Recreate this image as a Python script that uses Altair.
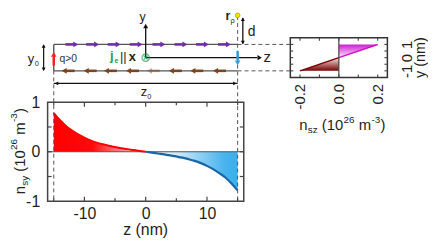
import altair as alt
import pandas as pd

# ---------------- data ----------------
z_left = [-15, -14, -13, -12, -11, -10, -9, -8, -7, -6, -5, -4, -3, -2, -1, 0]
nsy_left = [0.78, 0.64, 0.52, 0.43, 0.35, 0.285, 0.23, 0.185, 0.15, 0.12, 0.095, 0.072, 0.053, 0.035, 0.017, 0.0]
z_right = [0, 1, 2, 3, 4, 5, 6, 7, 8, 9, 10, 11, 12, 13, 14, 15]
nsy_right = [0.0, -0.017, -0.035, -0.053, -0.072, -0.095, -0.12, -0.15, -0.185, -0.23, -0.285, -0.35, -0.43, -0.52, -0.64, -0.78]

inset_y_neg = [-1.0, 0.0]
nsz_neg = [-0.2, 0.0]
inset_y_pos = [0.0, 1.0]
nsz_pos = [0.0, 0.2]

x_tick_vals = [-15, -10, -5, 0, 5, 10, 15]
x_label_vals = [-10, 0, 10]
y_tick_vals = [-0.5, 0, 0.5]
y_label_vals = [-1, 0, 1]
inset_x_tick_vals = [-0.2, -0.1, 0.0, 0.1, 0.2]
inset_x_label_vals = [-0.2, 0.0, 0.2]
inset_y_tick_vals = [-1, -0.5, 0, 0.5, 1]
inset_y_label_vals = [-1, 0, 1]

wire_z = [-15, 15]          # wire ends (z0 = 30 nm)
wire_y = [-1, 1]            # wire faces (y0 = 2 nm)
current_up_z = [-12.1, -8.7, -5.2, -1.6, 2.1, 5.7, 9.2, 12.8]
current_down_z = [-12.6, -9.0, -5.7, -2.1, 1.3, 4.9, 8.4, 12.1]
current_down_w = [1, 1, 1, 1, 0.45, 1, 1, 1]

# ---------------- layout / style ----------------
FONT = "Liberation Sans"
TXT = "#231f20"
FRAME = "#444444"
W, H = 198, 100
OX, OY = 48, 102           # page position of plot origin
SVG_W, SVG_H = 424, 233
ONE = pd.DataFrame({"k": [0]})

SX = alt.Scale(domain=[-16, 16], nice=False, zero=False)
SY = alt.Scale(domain=[-1, 1], nice=False, zero=False)
SXS = alt.Scale(domain=[-16, 16], range=[0, W], nice=False, zero=False)
SXI = alt.Scale(domain=[-0.25, 0.25], range=[293 - OX, 391 - OX], nice=False, zero=False)
SYI = alt.Scale(domain=[-1.5, 1.5], range=[77 - OY, 37 - OY], nice=False, zero=False)

AXM = alt.Axis(values=x_label_vals, labelFontSize=16, labelFont=FONT, labelColor=TXT,
               ticks=False, domain=False, grid=False, labelPadding=4, title=None,
               labelExpr="datum.value < 0 ? '-' + format(-datum.value, 'd') : format(datum.value, 'd')")
AYM = alt.Axis(values=y_label_vals, labelFontSize=16, labelFont=FONT, labelColor=TXT,
               ticks=False, domain=False, grid=False, labelPadding=8, title=None,
               labelExpr="datum.value < 0 ? '-' + format(-datum.value, 'd') : format(datum.value, 'd')")
AXI = alt.Axis(values=inset_x_label_vals, orient="bottom", offset=(77 - OY) - H,
               labelFontSize=15, labelFont=FONT, labelColor=TXT, labelAngle=270,
               labelAlign="right", labelBaseline="middle", labelPadding=6,
               ticks=False, domain=False, grid=False, title=None,
               labelExpr="datum.value < 0 ? '-' + format(-datum.value, '.1f') : format(datum.value, '.1f')")
AYI = alt.Axis(values=inset_y_label_vals, orient="right", offset=(391 - OX) - W,
               labelFontSize=15, labelFont=FONT, labelColor=TXT, labelAngle=270,
               labelAlign="center", labelBaseline="top", labelPadding=12,
               ticks=False, domain=False, grid=False, title=None,
               labelExpr="datum.value < 0 ? '-' + format(-datum.value, 'd') : format(datum.value, 'd')")

XM = alt.X("z:Q", scale=SX, axis=AXM)
YM = alt.Y("n:Q", scale=SY, axis=AYM)

EM = {" ": 278, "(": 333, ")": 333, "m": 833, "n": 556, "s": 500, "y": 500, "z": 500, "-": 333}


def tw(s, size):
    return sum(EM.get(c, 556) for c in s) * size / 1000.0


def txt(text, px, py, size, color=TXT, angle=0, align="left", baseline="alphabetic", bold=False):
    return alt.Chart(ONE).mark_text(
        text=text, fontSize=size, font=FONT, color=color, angle=angle, align=align,
        baseline=baseline, fontWeight="bold" if bold else "normal"
    ).encode(x=alt.value(px - OX), y=alt.value(py - OY))


def run(pieces, px, py, angle=0):
    """pieces: (text, size, baseline shift, gap before in px)"""
    out = []
    pos = px if angle == 0 else py
    for text, size, shift, gap in pieces:
        if angle == 0:
            pos += gap
            out.append(txt(text, pos, py + shift, size))
            pos += tw(text, size)
        else:
            pos -= gap
            out.append(txt(text, px + shift, pos, size, angle=270))
            pos -= tw(text, size)
    return out


def grad(stops, horizontal=True):
    return alt.Gradient(
        gradient="linear", x1=0, y1=0, x2=1 if horizontal else 0, y2=0 if horizontal else 1,
        stops=[alt.GradientStop(offset=o, color=c) for o, c in stops])


# ---------------- main panel ----------------
df_l = pd.DataFrame({"z": z_left, "n": nsy_left})
df_r = pd.DataFrame({"z": z_right, "n": nsy_right})

red_fill = grad([(0, "#ff0000"), (0.42, "#ff0a0a"), (0.72, "#ff8585"), (1, "#ffeeee")])
blue_fill = grad([(0, "#f0f8fe"), (0.35, "#cfeafb"), (0.62, "#86ccf4"), (0.85, "#4ab4ee"), (1, "#3aaeec")])

main_layers = [
    alt.Chart(df_l).mark_area(fill=red_fill, interpolate="monotone").encode(x=XM, y=alt.Y("n:Q", scale=SY, axis=AYM, stack=None)),
    alt.Chart(df_r).mark_area(fill=blue_fill, interpolate="monotone").encode(x=XM, y=alt.Y("n:Q", scale=SY, axis=AYM, stack=None)),
    alt.Chart(pd.DataFrame({"n": [0]})).mark_rule(color="#555555", strokeWidth=1.2).encode(y=YM, x=alt.value(0), x2=alt.value(W)),
    alt.Chart(df_l).mark_line(color="#ff0000", strokeWidth=2, interpolate="monotone").encode(x=XM, y=YM),
    alt.Chart(df_r).mark_line(color="#1a66a3", strokeWidth=2.2, interpolate="monotone").encode(x=XM, y=YM),
    alt.Chart(pd.DataFrame({"z": [wire_z[0]]})).mark_rule(color="#555555", strokeWidth=1, strokeDash=[4, 3]).encode(
        x=XM, y=alt.value(70 - OY), y2=alt.value(H)),
    alt.Chart(pd.DataFrame({"z": [wire_z[1]]})).mark_rule(color="#555555", strokeWidth=1, strokeDash=[4, 3]).encode(
        x=XM, y=alt.value(15 - OY), y2=alt.value(H)),
]
major_x = [v for v in x_tick_vals if v in x_label_vals]
minor_x = [v for v in x_tick_vals if v not in x_label_vals]
for vals, ln in ((major_x, 4.5), (minor_x, 3)):
    d = pd.DataFrame({"z": vals})
    main_layers.append(alt.Chart(d).mark_rule(color=FRAME, strokeWidth=1.2).encode(x=XM, y=alt.value(H), y2=alt.value(H - ln)))
    main_layers.append(alt.Chart(d).mark_rule(color=FRAME, strokeWidth=1.2).encode(x=XM, y=alt.value(0), y2=alt.value(ln)))
dy = pd.DataFrame({"n": y_tick_vals})
main_layers.append(alt.Chart(dy).mark_rule(color=FRAME, strokeWidth=1.2).encode(y=YM, x=alt.value(0), x2=alt.value(4)))
main_layers.append(alt.Chart(dy).mark_rule(color=FRAME, strokeWidth=1.2).encode(y=YM, x=alt.value(W), x2=alt.value(W - 4)))

# titles (sub/superscripts as separate pieces)
SP = 4.2
main_layers += run([("n", 15, 0, 0), ("sy", 10, 3.5, 0.3), ("(10", 15, 0, SP), ("26", 10, -8, 0.3),
                    ("m", 15, 0, SP), ("-3", 10, -8, 0.3), (")", 15, 0, 0.3)], 25, 195, angle=270)
main_layers.append(txt("z (nm)", 147, 236, 16, align="center"))
main_layers += run([("n", 15, 0, 0), ("sz", 10, 3.5, 0.3), ("(10", 15, 0, SP), ("26", 10, -7, 0.3),
                    ("m", 15, 0, SP), ("-3", 10, -7, 0.3), (")", 15, 0, 0.3)], 302, 130)
main_layers.append(txt("y (nm)", 429, 57, 14.5, angle=270, align="center"))

# schematic labels
main_layers += [
    txt("y", 144, 20, 12.5, align="center"),
    txt("z", 266, 61, 15),
    txt("r", 227.5, 19.5, 12.5, bold=True),
    txt("ρ", 232.5, 22.5, 7.5),
    txt("d", 250, 35, 14),
    txt("q>0", 60, 61, 10.5, color="#333333"),
    txt("j", 111, 59, 13, color="#1f9a4a", bold=True),
    txt("e", 115.5, 62, 7, color="#1f9a4a", bold=True),
    txt("||", 121, 60, 13),
    txt("x", 130, 60.5, 13, bold=True),
    txt("y", 28, 62, 13),
    txt("0", 35, 65, 7.5),
    txt("z", 142, 96, 13),
    txt("0", 148.5, 99, 7.5),
]
main = alt.layer(*main_layers)

# ---------------- schematic ----------------
XS = alt.X("z:Q", scale=SXS, axis=None)
YS = alt.Y("y:Q", scale=SYI, axis=None)


def seg(z, z2, y, y2, color, width=1.3, dash=None, opacity=None):
    df = pd.DataFrame({"z": z, "z2": z2, "y": y, "y2": y2})
    kw = dict(color=color, strokeWidth=width)
    if dash:
        kw["strokeDash"] = dash
    enc = dict(x=XS, x2="z2:Q", y=YS, y2="y2:Q")
    if opacity is not None:
        df["w"] = opacity
        enc["opacity"] = alt.Opacity("w:Q", scale=None)
    return alt.Chart(df).mark_rule(**kw).encode(**enc)


def head(z, y, shape, color, size=30, opacity=None):
    df = pd.DataFrame({"z": z, "y": y})
    enc = dict(x=XS, y=YS)
    if opacity is not None:
        df["w"] = opacity
        enc["opacity"] = alt.Opacity("w:Q", scale=None)
    return alt.Chart(df).mark_point(shape=shape, filled=True, color=color, size=size, opacity=1).encode(**enc)


PURPLE = "#6f2da8"
BROWN = "#7a451f"
n_up = len(current_up_z)
n_dn = len(current_down_z)
schem_layers = [
    seg([wire_z[0]] * 2, [wire_z[1]] * 2, wire_y, wire_y, "#555555", 1.4),
    seg([wire_z[0]], [wire_z[0]], [wire_y[0]], [wire_y[1]], "#555555", 1.4),
    alt.Chart(pd.DataFrame({"z": [wire_z[1]] * 2, "y": wire_y})).mark_rule(
        color="#555555", strokeWidth=1, strokeDash=[4, 3]).encode(x=XS, x2=alt.value(293 - OX), y=YS),
    seg([c - 1.0 for c in current_up_z], [c + 0.4 for c in current_up_z], [wire_y[1]] * n_up, [wire_y[1]] * n_up, PURPLE, 2.6),
    head([c + 0.7 for c in current_up_z], [wire_y[1]] * n_up, "triangle-right", PURPLE, 34),
    seg([c - 0.4 for c in current_down_z], [c + 1.0 for c in current_down_z], [wire_y[0]] * n_dn, [wire_y[0]] * n_dn, BROWN, 2.6, opacity=current_down_w),
    head([c - 0.7 for c in current_down_z], [wire_y[0]] * n_dn, "triangle-left", BROWN, 34, opacity=current_down_w),
    seg([0], [18.2], [0], [0], "#111111", 1.3),
    head([18.6], [0], "triangle-right", "#111111", 26),
    seg([0], [0], [0], [2.25], "#111111", 1.3),
    head([0], [2.4], "triangle-up", "#111111", 26),
    alt.Chart(pd.DataFrame({"z": [0], "y": [0]})).mark_point(shape="circle", filled=False, color="#1f9a4a", size=55, strokeWidth=1.2).encode(x=XS, y=YS),
    alt.Chart(pd.DataFrame({"z": [0], "y": [0]})).mark_point(shape="M-0.6,-0.6L0.6,0.6M-0.6,0.6L0.6,-0.6", filled=False, color="#1f9a4a", size=40, strokeWidth=1.1).encode(x=XS, y=YS),
    seg([wire_z[0]], [wire_z[0]], [-0.6], [0.1], "#ff2020", 2.5),
    head([wire_z[0]], [0.25], "triangle-up", "#ff2020", 30),
    seg([wire_z[1]], [wire_z[1]], [0.5], [-0.2], "#2b9de0", 2.5),
    head([wire_z[1]], [-0.4], "triangle-down", "#2b9de0", 30),
    seg([-16.65], [-16.65], [-0.95], [0.95], "#111111", 1.2),
    head([-16.65], [0.88], "triangle-up", "#111111", 16),
    head([-16.65], [-0.88], "triangle-down", "#111111", 16),
    seg([wire_z[0]], [wire_z[1]], [-1.95], [-1.95], "#111111", 1.2),
    head([wire_z[0] + 0.45], [-1.95], "triangle-left", "#111111", 16),
    head([wire_z[1] - 0.45], [-1.95], "triangle-right", "#111111", 16),
    seg([15.85], [15.85], [1.05], [3.0], "#111111", 1.3),
    head([15.85], [2.9], "triangle-up", "#111111", 16),
    head([15.85], [1.15], "triangle-down", "#111111", 16),
    alt.Chart(pd.DataFrame({"z": [wire_z[1]], "y": [3.2]})).mark_point(shape="circle", filled=True, color="#f2e000", stroke="#b8a800", strokeWidth=0.8, size=22, opacity=1).encode(x=XS, y=YS),
]
schem = alt.layer(*schem_layers)

# ---------------- inset ----------------
XI = alt.X("nsz:Q", scale=SXI, axis=AXI)
YI = alt.Y("y:Q", scale=SYI, axis=AYI)
df_neg = pd.DataFrame({"nsz": nsz_neg, "y": inset_y_neg})
df_pos = pd.DataFrame({"nsz": nsz_pos, "y": inset_y_pos})
mag_fill = grad([(0, "#d21ad2"), (1, "#fbeafb")], horizontal=False)
dred_fill = grad([(0, "#f3e6e6"), (1, "#7a0000")], horizontal=False)

inset_layers = [
    alt.Chart(df_neg).mark_area(orient="horizontal", fill=dred_fill).encode(x=alt.X("nsz:Q", scale=SXI, axis=AXI, stack=None), y=YI),
    alt.Chart(df_pos).mark_area(orient="horizontal", fill=mag_fill).encode(x=alt.X("nsz:Q", scale=SXI, axis=AXI, stack=None), y=YI),
    alt.Chart(df_neg).mark_line(color="#7a0000", strokeWidth=1.5).encode(x=XI, y=YI, order="y:Q"),
    alt.Chart(df_pos).mark_line(color="#cc11cc", strokeWidth=1.5).encode(x=XI, y=YI, order="y:Q"),
    alt.Chart(pd.DataFrame({"nsz": [0.0], "y": [-1.5], "y2": [1.5]})).mark_rule(color="#444444", strokeWidth=1.2).encode(x=XI, y=YI, y2="y2:Q"),
    alt.Chart(pd.DataFrame({"nsz": [-0.25], "nsz2": [0.25], "y": [-1.5], "y2": [1.5]})).mark_rect(
        fillOpacity=0, stroke="#333333", strokeWidth=1.5).encode(x=XI, x2="nsz2:Q", y=YI, y2="y2:Q"),
]
dxi = pd.DataFrame({"nsz": inset_x_tick_vals})
dyi = pd.DataFrame({"y": inset_y_tick_vals})
inset_layers += [
    alt.Chart(dxi).mark_rule(color=FRAME, strokeWidth=1.1).encode(x=XI, y=alt.value(77 - OY), y2=alt.value(77 - OY - 3)),
    alt.Chart(dxi).mark_rule(color=FRAME, strokeWidth=1.1).encode(x=XI, y=alt.value(37 - OY), y2=alt.value(37 - OY + 3)),
    alt.Chart(dyi).mark_rule(color=FRAME, strokeWidth=1.1).encode(y=YI, x=alt.value(293 - OX), x2=alt.value(293 - OX + 3)),
    alt.Chart(dyi).mark_rule(color=FRAME, strokeWidth=1.1).encode(y=YI, x=alt.value(391 - OX), x2=alt.value(391 - OX - 3)),
]
inset = alt.layer(*inset_layers)

chart = alt.layer(main, schem, inset).resolve_scale(x="independent", y="independent").properties(
    width=W, height=H,
    padding={"left": OX - 8, "top": OY - 8, "right": SVG_W - (OX - 8) - W, "bottom": SVG_H - (OY - 8) - H},
    autosize=alt.AutoSizeParams(type="none"),
).configure_view(stroke=FRAME, strokeWidth=1.5).configure_axis(labelFont=FONT)

chart.save("out.html", embed_options={"renderer": "svg", "actions": False})
